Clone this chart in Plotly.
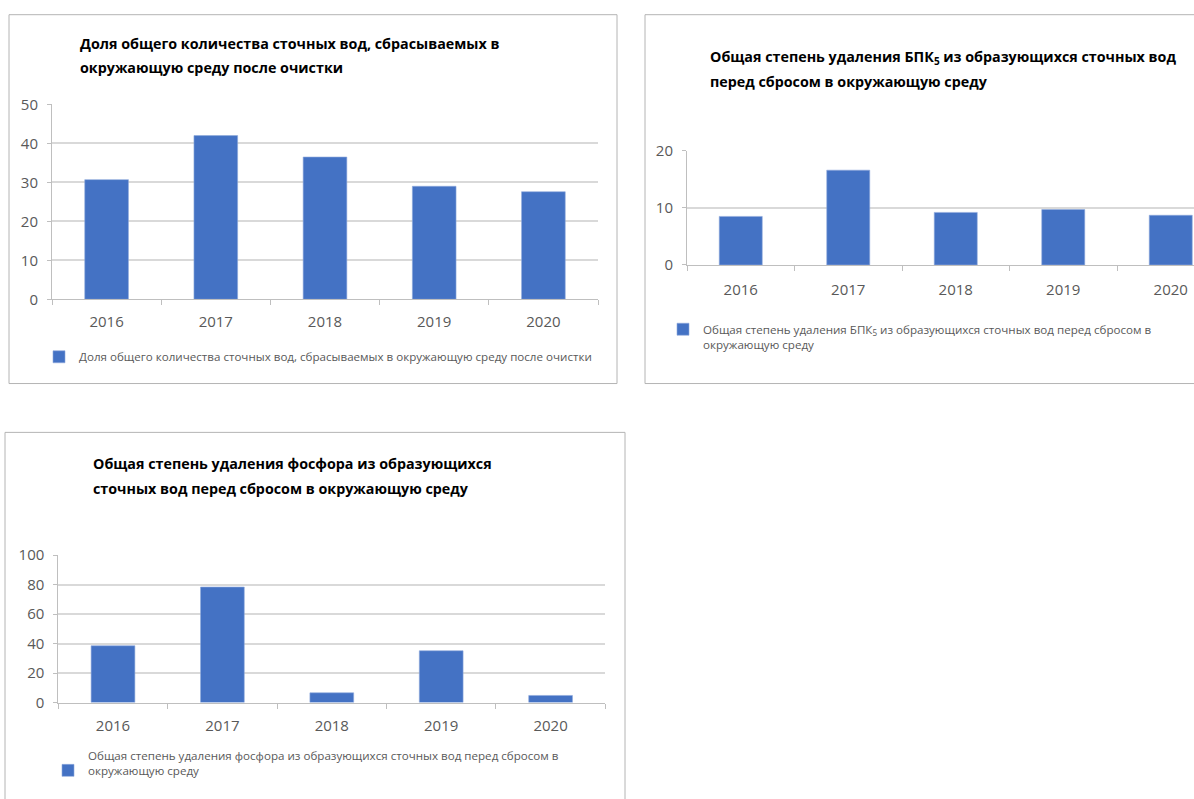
import plotly.graph_objects as go

# ---- data -------------------------------------------------------------
years = ["2016", "2017", "2018", "2019", "2020"]

share_discharged_after_treatment = [30.7, 42.0, 36.5, 29.0, 27.6]
bod5_removal = [8.5, 16.6, 9.2, 9.7, 8.7]
phosphorus_removal = [38.5, 78.3, 6.6, 35.1, 4.8]

title_1 = ["Доля общего количества сточных вод, сбрасываемых в",
           "окружающую среду после очистки"]
title_2 = ["Общая степень удаления БПК<sub>5</sub> из образующихся сточных вод",
           "перед сбросом в окружающую среду"]
title_3 = ["Общая степень удаления фосфора из образующихся",
           "сточных вод перед сбросом в окружающую среду"]

legend_1 = "Доля общего количества сточных вод, сбрасываемых в окружающую среду после очистки"
legend_2 = ("Общая степень удаления БПК<sub>5</sub> из образующихся сточных вод перед сбросом в"
            "<br>окружающую среду")
legend_3 = ("Общая степень удаления фосфора из образующихся сточных вод перед сбросом в"
            "<br>окружающую среду")

y_ranges = [(0, 50), (0, 20), (0, 100)]
y_dtick = [10, 10, 20]

# ---- styling ----------------------------------------------------------
W, H = 1194, 799
FONT = "Open Sans, Noto Sans, sans-serif"
BAR = "#4472C4"
GRID = "#d9d9d9"
AXIS = "#bfbfbf"
FRAME = "#b4b4b4"
LABEL = "#595959"

# the page adds a little vertical space around the figure; positions below are
# given in screen pixels and converted back to figure pixels here
Y_OFF, Y_SCALE = 8.3, 0.978


def px(x):
    return x / W


def fy(y):
    return (y - Y_OFF) / Y_SCALE


def py(y):
    return 1 - fy(y) / H


fig = go.Figure()

series = [
    (share_discharged_after_treatment, legend_1, "x", "y", "legend"),
    (bod5_removal, legend_2, "x2", "y2", "legend2"),
    (phosphorus_removal, legend_3, "x3", "y3", "legend3"),
]
for values, name, xa, ya, lg in series:
    fig.add_trace(go.Bar(
        x=years, y=values, name=name, xaxis=xa, yaxis=ya, legend=lg,
        marker=dict(color=BAR, line=dict(color="#8eaadb", width=0.6)),
        showlegend=True,
    ))

# plot-area geometry (screen pixels)
x_domains = [(52, 598), (687, W), (58.3, 605.3)]
y_domains = [(297.5, 102), (263, 148.5), (702, 554)]
# second panel is cut by the page edge: keep its category width at 107.5 px
x_ranges = [(-0.5, 4.5), (-0.5, -0.5 + (W - 687) / 107.5), (-0.5, 4.5)]
x_standoff = [9, 11, 9]

for i in range(3):
    sfx = "" if i == 0 else str(i + 1)
    fig.update_layout(**{
        "xaxis" + sfx: dict(
            domain=[px(x_domains[i][0]), px(x_domains[i][1])],
            anchor="y" + sfx, type="category", range=list(x_ranges[i]),
            showgrid=False, showline=True, linecolor=AXIS, linewidth=1.3,
            ticks="outside", tickson="boundaries", ticklen=5, tickcolor=AXIS,
            tickwidth=1, ticklabelstandoff=x_standoff[i],
            tickfont=dict(family=FONT, size=15, color=LABEL),
            zeroline=False, fixedrange=True,
        ),
        "yaxis" + sfx: dict(
            domain=[py(y_domains[i][0]), py(y_domains[i][1])],
            anchor="x" + sfx, range=list(y_ranges[i]), dtick=y_dtick[i],
            showgrid=True, gridcolor=GRID, gridwidth=1.5,
            showline=True, linecolor=AXIS, linewidth=1,
            ticks="outside", ticklen=4, tickcolor=AXIS, ticklabelstandoff=6,
            tickfont=dict(family=FONT, size=15, color=LABEL),
            zeroline=False, fixedrange=True,
        ),
    })

# chart frames
frame = dict(type="rect", xref="paper", yref="paper",
             line=dict(color=FRAME, width=1), fillcolor="rgba(0,0,0,0)", layer="below")
fig.add_shape(x0=px(9), x1=px(617), y0=py(382), y1=py(12), **frame)
fig.add_shape(x0=px(645), x1=1.02, y0=py(382), y1=py(12), **frame)
fig.add_shape(x0=px(5), x1=px(625), y0=-0.02, y1=py(431), **frame)

# chart titles
title_pos = [(78, 41, 65), (708, 55, 79), (91, 462, 487)]
for lines, (tx, ty1, ty2) in zip([title_1, title_2, title_3], title_pos):
    for text, ty in zip(lines, (ty1, ty2)):
        fig.add_annotation(
            text=text, x=px(tx), y=py(ty), xref="paper", yref="paper",
            xanchor="left", yanchor="middle", showarrow=False,
            font=dict(family=FONT, size=14.3, color="#000000", weight="bold"),
        )

legend_style = dict(font=dict(family=FONT, size=11.6, color=LABEL),
                    bgcolor="rgba(0,0,0,0)", xanchor="left", yanchor="top",
                    orientation="v")
fig.update_layout(
    width=W, height=H,
    margin=dict(l=0, r=0, t=0, b=0),
    paper_bgcolor="white", plot_bgcolor="white",
    bargap=0.6,
    legend=dict(x=px(39), y=1 - 339.8 / H, valign="middle", **legend_style),
    legend2=dict(x=px(663), y=1 - 312 / H, valign="top", **legend_style),
    legend3=dict(x=px(48), y=1 - 749 / H, valign="bottom", **legend_style),
)

fig.write_html("out.html")
